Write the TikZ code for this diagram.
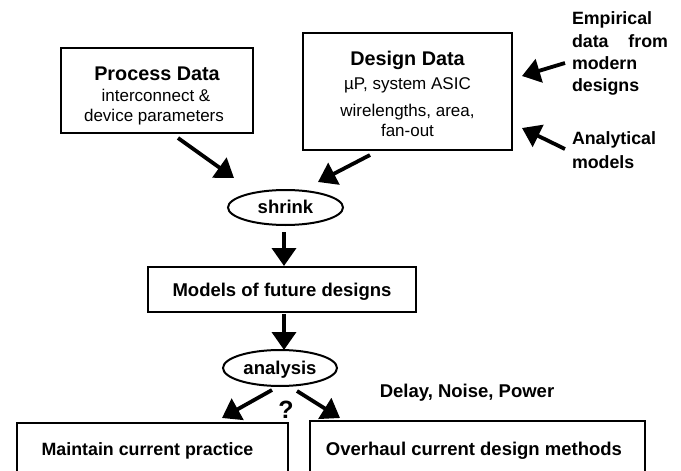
\documentclass[tikz,border=0pt]{standalone}
\usepackage{fontspec}
\setmainfont{Liberation Sans}
\usetikzlibrary{arrows.meta,shapes.geometric}
\begin{document}
\begin{tikzpicture}[x=1pt,y=-1pt,
 every node/.style={inner sep=0pt,outer sep=0pt},
 box/.style={draw,line width=2pt},
 oval/.style={draw,ellipse,line width=2pt},
 conn/.style={line width=3.8pt,-{Triangle[length=18pt,width=24pt]}},
 big/.style={font=\fontsize{19.8}{22}\selectfont\bfseries,anchor=base},
 lbl/.style={font=\fontsize{18.5}{20}\selectfont\bfseries,anchor=base},
 lblb/.style={font=\fontsize{17.8}{20}\selectfont\bfseries,anchor=base},
 small/.style={font=\fontsize{17}{18}\selectfont,anchor=base},
 side/.style={font=\fontsize{17.8}{20}\selectfont\bfseries,anchor=base west}]
\clip (0,0) rectangle (681,471);
% boxes
\node[box,minimum width=192pt,minimum height=85pt] (proc) at (157,90.5) {};
\node[big] (proct) at (157,80) {Process Data};
\node[small] (proc1) at (156,101) {interconnect \&};
\node[small] (proc2) at (154,121) {device parameters};
\node[box,minimum width=209pt,minimum height=117pt] (des) at (407.5,91.5) {};
\node[big] (dest) at (407.5,65) {Design Data};
\node[small] (des1) at (407.5,89) {µP, system ASIC};
\node[small] (des2) at (407.5,116) {wirelengths, area,};
\node[small] (des3) at (407.5,136) {fan-out};
\node[oval,minimum width=115pt,minimum height=35pt] (shrink) at (285.5,207.5) {};
\node[lbl] (shrinkt) at (285.5,213) {shrink};
\node[box,minimum width=268pt,minimum height=45pt] (models) at (282,289.5) {};
\node[lbl] (modelst) at (282,296) {Models of future designs};
\node[oval,minimum width=114pt,minimum height=36pt] (anal) at (280,368) {};
\node[lbl] (analt) at (280,374) {analysis};
\node[box,minimum width=271pt,minimum height=80pt] (maint) at (152.5,463) {};
\node[lblb] (maintt) at (147.5,455) {Maintain current practice};
\node[box,minimum width=335pt,minimum height=80pt] (over) at (477.5,461) {};
\node[lbl] (overt) at (474,455) {Overhaul current design methods};
\node[lbl] (delay) at (467,397) {Delay, Noise, Power};
\node[font=\fontsize{25}{26}\selectfont\bfseries,anchor=base] (q) at (286,418) {?};
% side texts
\node[side] (emp1) at (572,24) {Empirical};
\node[side] (emp2) at (572,47) {\makebox[96pt][s]{data from}};
\node[side] (emp3) at (572,69) {modern};
\node[side] (emp4) at (572,91) {designs};
\node[side] (ana1) at (572,144) {Analytical};
\node[side] (ana2) at (572,168) {models};
% connector ends
\coordinate (pa) at (178,138);
\coordinate (pb) at (234,178);
\coordinate (da) at (370,155);
\coordinate (db) at (318,182);
\coordinate (ea) at (565,63);
\coordinate (eb) at (522,76);
\coordinate (aa) at (565,149);
\coordinate (ab) at (522,128);
\coordinate (sa) at (284,232);
\coordinate (sb) at (284,266);
\coordinate (ma) at (284,314);
\coordinate (mb) at (284,350);
\coordinate (la) at (272,390);
\coordinate (lb) at (222,418);
\coordinate (ra) at (297,391);
\coordinate (rb) at (340,418);
\draw[conn] (pa) -- (pb);
\draw[conn] (da) -- (db);
\draw[conn] (ea) -- (eb);
\draw[conn] (aa) -- (ab);
\draw[conn] (sa) -- (sb);
\draw[conn] (ma) -- (mb);
\draw[conn] (la) -- (lb);
\draw[conn] (ra) -- (rb);
\end{tikzpicture}
\end{document}
